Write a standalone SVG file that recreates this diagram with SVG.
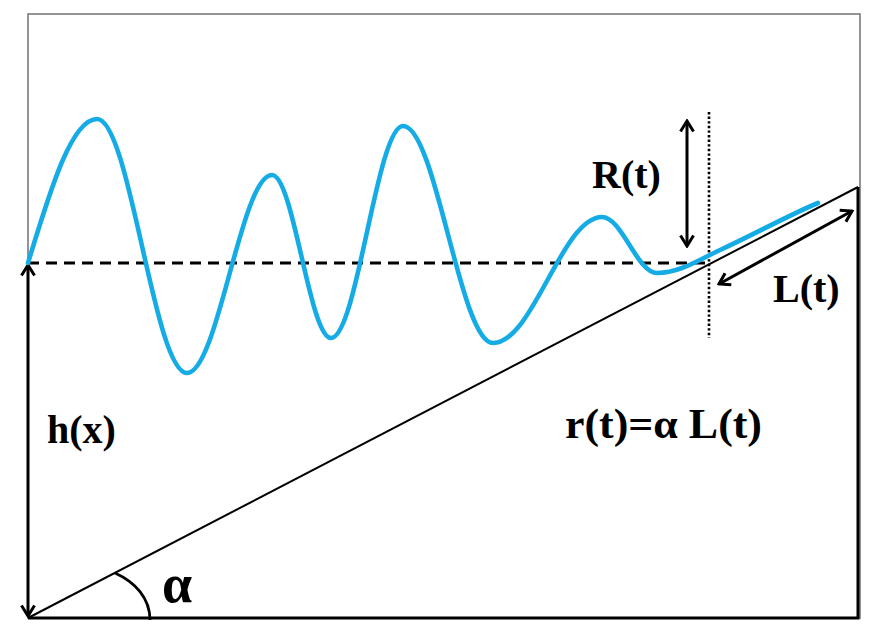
<svg xmlns="http://www.w3.org/2000/svg" width="880" height="640" viewBox="0 0 880 640">
<style>
.lbl{font-family:"Liberation Serif","Times New Roman",serif;font-weight:bold;fill:#000}
.ln{stroke:#000;fill:none}
</style>
<defs>
<marker id="arr" viewBox="0 0 14 16" refX="12" refY="8" markerWidth="14" markerHeight="16" markerUnits="userSpaceOnUse" orient="auto-start-reverse">
<path d="M1.5,1.5 L12,8 L1.5,14.5" fill="none" stroke="#000" stroke-width="3"/>
</marker>
</defs>
<rect width="880" height="640" fill="#fff"/>
<g id="frame">
<rect x="28" y="14" width="832" height="604" fill="none" stroke="#7a7a7a" stroke-width="1.6"/>
</g>
<g id="connectors">
<line class="ln" x1="28" y1="263" x2="709" y2="263" stroke-width="3" stroke-dasharray="11,7"/>
<line class="ln" x1="28" y1="618" x2="858" y2="187" stroke-width="2"/>
<polyline class="ln" points="858,187 858,618 28,618" stroke-width="3"/>
<line class="ln" x1="709" y1="112" x2="709" y2="338" stroke="#335A80" stroke-width="2.6" stroke-dasharray="2.4,2.2"/>
<line class="ln" x1="28" y1="265" x2="28" y2="616" stroke-width="3" marker-start="url(#arr)" marker-end="url(#arr)"/>
<line class="ln" x1="687" y1="121" x2="687" y2="246" stroke-width="3" marker-start="url(#arr)" marker-end="url(#arr)"/>
<line class="ln" x1="719" y1="284" x2="852" y2="211" stroke-width="3" marker-start="url(#arr)" marker-end="url(#arr)"/>
<path class="ln" d="M115,573 C135,582 150,598 150,620" stroke-width="2.8"/>
</g>
<g id="wave">
<path d="M28,263 C51,187 72,119 97,119 C130,119 154,373 187,373 C218,373 241,175 272,175 C293.5,175 309.5,338 331,338 C357,338 377,126 403,126 C436,126 460,343 493,343 C533,343 562,217 602,217 C622,217 637,273 657,273 C680,273 700,259 720,250 C750,236.5 795,212 818,203" fill="none" stroke="#15ACE6" stroke-width="4.6" stroke-linecap="round" stroke-linejoin="round"/>
</g>
<g id="label-R"><text class="lbl" x="592" y="188" font-size="40">R(t)</text></g>
<g id="label-L"><text class="lbl" x="773" y="302" font-size="40">L(t)</text></g>
<g id="label-h"><text class="lbl" x="47" y="443" font-size="40">h(x)</text></g>
<g id="label-r"><text class="lbl" x="565" y="438" font-size="43" textLength="197" lengthAdjust="spacingAndGlyphs">r(t)=α L(t)</text></g>
<g id="label-alpha"><text class="lbl" x="162" y="602" font-size="54">α</text></g>
</svg>
